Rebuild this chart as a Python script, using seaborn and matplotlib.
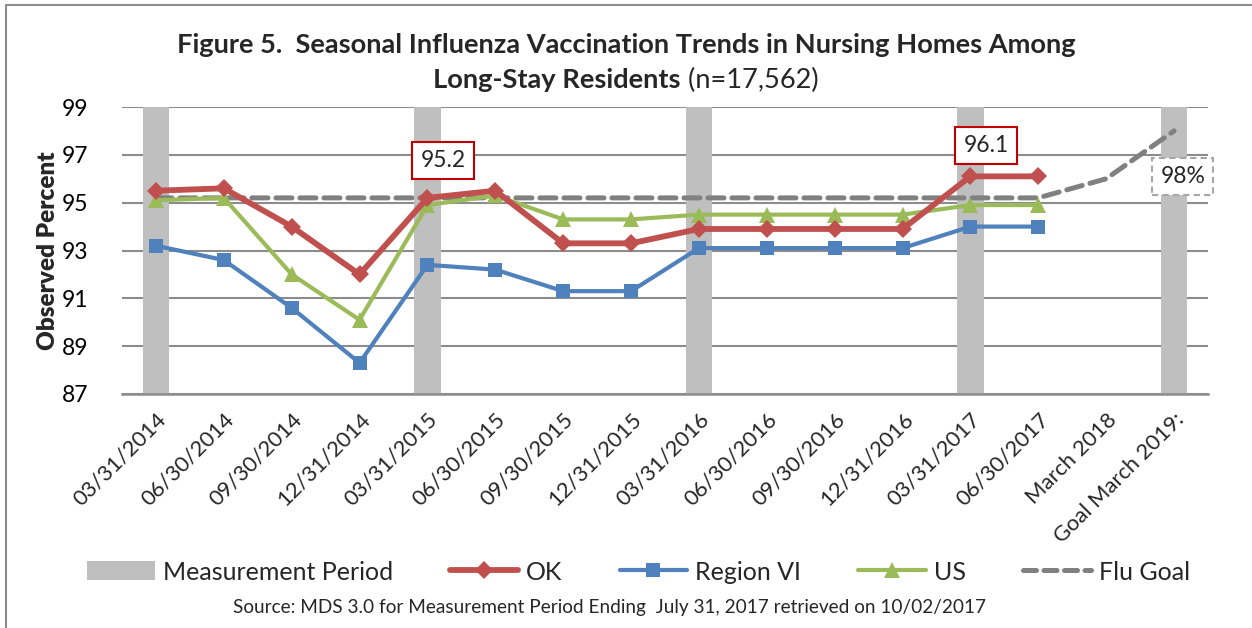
import numpy as np
import pandas as pd
import matplotlib
matplotlib.use("Agg")
import matplotlib.pyplot as plt
import matplotlib.patches as mpatches
from matplotlib.lines import Line2D
import seaborn as sns

# ---------------- data ----------------
categories = ["03/31/2014", "06/30/2014", "09/30/2014", "12/31/2014",
              "03/31/2015", "06/30/2015", "09/30/2015", "12/31/2015",
              "03/31/2016", "06/30/2016", "09/30/2016", "12/31/2016",
              "03/31/2017", "06/30/2017", "March 2018", "Goal March 2019:"]
measurement = [99, 0, 0, 0, 99, 0, 0, 0, 99, 0, 0, 0, 99, 0, 0, 99]
ok = [95.5, 95.6, 94.0, 92.0, 95.2, 95.5, 93.3, 93.3, 93.9, 93.9, 93.9, 93.9, 96.1, 96.1]
region6 = [93.2, 92.6, 90.6, 88.3, 92.4, 92.2, 91.3, 91.3, 93.1, 93.1, 93.1, 93.1, 94.0, 94.0]
us = [95.1, 95.2, 92.0, 90.1, 94.9, 95.3, 94.3, 94.3, 94.5, 94.5, 94.5, 94.5, 94.9, 94.9]
flu_goal = [95.2] * 14 + [96.0, 98.0]
yticks = [87, 89, 91, 93, 95, 97, 99]
callouts = [(4, "95.2"), (12, "96.1")]
goal_label = (15, "98%")

# ---------------- style ----------------
sns.set_theme(style="white")
plt.rcParams["font.family"] = ["Lato", "DejaVu Sans"]

RED = "#C0504D"
BLUE = "#4F81BD"
GREEN = "#9BBB59"
GREY = "#808080"
BARGREY = "#BFBFBF"
GRIDC = "#8C8C8C"

fig = plt.figure(figsize=(12.52, 6.28), dpi=100)
ax = fig.add_axes([122 / 1252, 1 - 394 / 628, (1208 - 122) / 1252, (394 - 107) / 628])

# frame of the chart
fig.patches.append(mpatches.Rectangle((6 / 1252, -0.1), 1.2, 0.992 + 0.1,
                                      transform=fig.transFigure, fill=False,
                                      edgecolor="#8C8C8C", linewidth=1.5, zorder=0))

# measurement period bars
df_bar = pd.DataFrame({"cat": categories, "val": measurement})
sns.barplot(data=df_bar, x="cat", y="val", order=categories, color=BARGREY,
            width=0.39, saturation=1, linewidth=0, ax=ax, zorder=1)

x_all = np.arange(len(categories))

# flu goal
sns.lineplot(x=x_all[:len(flu_goal)], y=flu_goal, color=GREY, linewidth=3.6,
             ax=ax, zorder=3, sort=False)
gl = ax.lines[-1]
gl.set_dashes((3.2, 1.6))
gl.set_dash_capstyle("round")

# US
sns.lineplot(x=x_all[:len(us)], y=us, color=GREEN, linewidth=3.0, marker="^",
             markersize=11, markeredgewidth=0, ax=ax, zorder=4, sort=False)
# Region VI
sns.lineplot(x=x_all[:len(region6)], y=region6, color=BLUE, linewidth=3.0, marker="s",
             markersize=10, markeredgewidth=0, ax=ax, zorder=5, sort=False)
# OK
sns.lineplot(x=x_all[:len(ok)], y=ok, color=RED, linewidth=4.2, marker="D",
             markersize=9, markeredgewidth=0, ax=ax, zorder=6, sort=False)

# axes styling
ax.set_ylim(87, 99)
ax.set_xlim(-0.5, len(categories) - 0.5)
ax.set_yticks(yticks)
ax.yaxis.grid(True, color=GRIDC, linewidth=1.5)
ax.set_axisbelow(True)
for s in ["top", "right", "left"]:
    ax.spines[s].set_visible(False)
ax.spines["bottom"].set_color(GRIDC)
ax.spines["bottom"].set_linewidth(1.8)
ax.tick_params(axis="y", length=0, labelsize=16.5, pad=24, colors="black")
ax.tick_params(axis="x", length=0, pad=11)
ax.set_xticks(x_all)
ax.set_xticklabels(categories, rotation=45, ha="right", va="top",
                   rotation_mode="anchor", fontsize=15.8)
ax.set_xlabel("")
ax.set_ylabel("Observed Percent", fontsize=17.5, fontweight="heavy", labelpad=2)
if ax.get_legend():
    ax.get_legend().remove()

# callouts
for xi, txt in callouts:
    yv = ok[xi] + (1.55 if xi == 4 else 1.3)
    ax.text(xi + 0.23, yv, txt, ha="center", va="center", fontsize=16.5, zorder=10,
            bbox=dict(boxstyle="square,pad=0.35", facecolor="white", edgecolor="#C00000",
                      linewidth=1.5))
gx, gtxt = goal_label
ax.text(gx + 0.13, flu_goal[gx] - 1.92, gtxt, ha="center", va="center", fontsize=16.5,
        zorder=10,
        bbox=dict(boxstyle="square,pad=0.35", facecolor="white", edgecolor="#A6A6A6",
                  linewidth=1.5, linestyle=(0, (3, 2))))

# title
TS = 19.6
fig.text(0.5, 1 - 45 / 628, "Figure 5.  Seasonal Influenza Vaccination Trends in Nursing Homes Among",
         ha="center", va="center", fontsize=TS, fontweight="bold")
fig.canvas.draw()
r = fig.canvas.get_renderer()
tb = fig.text(0, 1 - 80 / 628, "Long-Stay Residents", ha="left", va="center",
              fontsize=TS, fontweight="bold")
tn = fig.text(0, 1 - 80 / 628, " (n=17,562)", ha="left", va="center", fontsize=TS)
wb = tb.get_window_extent(r).width
wn = tn.get_window_extent(r).width
start = (1252 * 0.5 - (wb + wn) / 2)
tb.set_x(start / 1252)
tn.set_x((start + wb) / 1252)

# legend
handles = [
    mpatches.Patch(facecolor=BARGREY, edgecolor="none", label="Measurement Period"),
    Line2D([], [], color=RED, linewidth=4.2, marker="D", markersize=9, markeredgewidth=0, label="OK"),
    Line2D([], [], color=BLUE, linewidth=3.0, marker="s", markersize=10, markeredgewidth=0, label="Region VI"),
    Line2D([], [], color=GREEN, linewidth=3.0, marker="^", markersize=11, markeredgewidth=0, label="US"),
    Line2D([], [], color=GREY, linewidth=3.6, dashes=(2.6, 1.5), dash_capstyle="round", label="Flu Goal"),
]
fig.legend(handles=handles, loc="center", bbox_to_anchor=(0.51, 1 - 572 / 628), ncol=5,
           frameon=False, fontsize=18, handlelength=2.7, handleheight=0.8,
           columnspacing=2.3, handletextpad=0.32)

fig.text(0.487, 1 - 607 / 628,
         "Source: MDS 3.0 for Measurement Period Ending  July 31, 2017 retrieved on 10/02/2017",
         ha="center", va="center", fontsize=13.7)

fig.savefig("out.png", dpi=100)
